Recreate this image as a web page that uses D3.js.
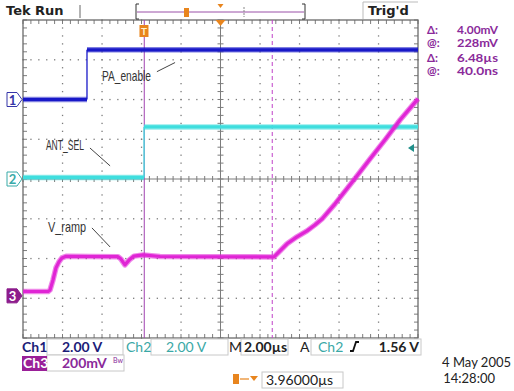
<!DOCTYPE html>
<html>
<head>
<meta charset="utf-8">
<script src="https://cdn.jsdelivr.net/npm/d3@7"></script>
<style>
  body { margin: 0; background: #fff; }
  svg { display: block; font-family: Lato, "DejaVu Sans", sans-serif; }
</style>
</head>
<body>
<svg id="scope" width="514" height="391"></svg>
<script>
// time in µs, relative to the trigger
const ch1Time = [-6.1, -2.86, -2.86, 13.9];
const ch1Volts = [0, 0, 2.5, 2.5];

const ch2Time = [-6.1, 0.03, 0.03, 13.9];
const ch2Volts = [0.08, 0.08, 2.62, 2.62];

const ch3Time = [-6.1, -4.83, -4.73, -4.58, -4.43, -4.28, -4.13, -3.92, -2.71, -1.29, -1.14, -0.94, -0.73, -0.48, -0.02, 0.84,
  6.51, 6.61, 6.91, 7.27, 7.77, 8.28, 8.68, 9.04, 9.70, 10.66, 11.47, 12.23, 12.99, 13.9];
const ch3MilliVolts = [22, 22, 30, 80, 141, 171, 191, 199, 198, 197, 185, 156, 180, 200, 206, 198,
  196, 196, 226, 262, 297, 327, 357, 387, 463, 584, 689, 785, 885, 991];

const channelNames = ['Ch1', 'Ch2', 'Ch3'];
const channelScales = ['2.00 V', '2.00 V', '200mV'];
const cursorTimes = [0.04, 6.52];
const cursorReadout = [['Δ:', '4.00mV'], ['@:', '228mV'], ['Δ:', '6.48µs'], ['@:', '40.0ns']];
const timebase = '2.00µs';
const trigLevel = 1.56;
const trigLabel = '1.56 V';
const hPosition = '3.96000µs';
const dateLines = ['4 May 2005', '14:28:00'];

const svg = d3.select('#scope');
const pL = 23, pR = 418, pT = 20, pB = 338;

const x = d3.scaleLinear().domain([-6.1, 13.9]).range([pL, pR]);
const y = d3.scaleLinear().domain([-4, 4]).range([pB, pT]); // divisions
const gx = d3.scaleLinear().domain([0, 10]).range([pL, pR]);

// channel settings: offset in divisions, units per division
const chans = [
  {t: ch1Time, v: ch1Volts, offset: 2, perDiv: 2, color: '#1818c8', mark: '#3535a8', label: '1'},
  {t: ch2Time, v: ch2Volts, offset: 0, perDiv: 2, color: '#3fdede', mark: '#39aaa8', label: '2'},
  {t: ch3Time, v: ch3MilliVolts, offset: -2.94, perDiv: 200, color: '#e025d5', mark: '#8c1c8c', label: '3'},
];

// graticule
const grid = svg.append('g').attr('class', 'graticule');
const gridCol = '#7c7c7c';
const minorX = d3.range(0, 50.01).map(i => pL + i * (pR - pL) / 50);
const minorY = d3.range(0, 40.01).map(i => pT + i * (pB - pT) / 40);

d3.range(1, 10).forEach(i => {
  if (i === 5) return;
  grid.selectAll(null).data(minorY).enter().append('rect')
    .attr('x', gx(i) - 0.6).attr('y', d => d - 0.6).attr('width', 1.3).attr('height', 1.3)
    .attr('fill', gridCol);
});
d3.range(-3, 4).forEach(i => {
  if (i === 0) return;
  grid.selectAll(null).data(minorX).enter().append('rect')
    .attr('x', d => d - 0.6).attr('y', y(i) - 0.6).attr('width', 1.3).attr('height', 1.3)
    .attr('fill', gridCol);
});

// centre axes with ticks
grid.append('line').attr('x1', pL).attr('x2', pR).attr('y1', y(0)).attr('y2', y(0))
  .attr('stroke', gridCol).attr('stroke-width', 1);
grid.append('line').attr('x1', gx(5)).attr('x2', gx(5)).attr('y1', pT).attr('y2', pB)
  .attr('stroke', gridCol).attr('stroke-width', 1);
grid.selectAll(null).data(minorX).enter().append('line')
  .attr('x1', d => d).attr('x2', d => d).attr('y1', y(0) - 3).attr('y2', y(0) + 3)
  .attr('stroke', gridCol);
grid.selectAll(null).data(minorY).enter().append('line')
  .attr('y1', d => d).attr('y2', d => d).attr('x1', gx(5) - 3).attr('x2', gx(5) + 3)
  .attr('stroke', gridCol);

// edge ticks
grid.selectAll(null).data(minorX).enter().append('line')
  .attr('x1', d => d).attr('x2', d => d).attr('y1', pT).attr('y2', pT + 4)
  .attr('stroke', gridCol);
grid.selectAll(null).data(minorX).enter().append('line')
  .attr('x1', d => d).attr('x2', d => d).attr('y1', pB - 4).attr('y2', pB)
  .attr('stroke', gridCol);
grid.selectAll(null).data(minorY).enter().append('line')
  .attr('y1', d => d).attr('y2', d => d).attr('x1', pL).attr('x2', pL + 4)
  .attr('stroke', gridCol);
grid.selectAll(null).data(minorY).enter().append('line')
  .attr('y1', d => d).attr('y2', d => d).attr('x1', pR - 4).attr('x2', pR)
  .attr('stroke', gridCol);

grid.append('rect').attr('x', pL).attr('y', pT).attr('width', pR - pL).attr('height', pB - pT)
  .attr('fill', 'none').attr('stroke', '#6a6a6a').attr('stroke-width', 1.3);

// cursors
svg.append('line').attr('x1', x(cursorTimes[0])).attr('x2', x(cursorTimes[0]))
  .attr('y1', pT).attr('y2', pB).attr('stroke', '#a040b0').attr('stroke-width', 1);
svg.append('line').attr('x1', x(cursorTimes[1])).attr('x2', x(cursorTimes[1]))
  .attr('y1', pT).attr('y2', pB).attr('stroke', '#c040c8').attr('stroke-width', 1)
  .attr('stroke-dasharray', '4,3');

// traces: flat/sloped runs are thick, vertical edges thin
const line = d3.line().x(d => x(d[0])).y(d => d[1]);
chans.forEach(c => {
  const pts = c.t.map((t, i) => [t, y(c.offset + c.v[i] / c.perDiv)]);
  const runs = [[pts[0]]];
  for (let i = 1; i < pts.length; i++) {
    if (pts[i][0] === pts[i - 1][0]) {
      svg.append('line')
        .attr('x1', x(pts[i][0])).attr('x2', x(pts[i][0]))
        .attr('y1', pts[i - 1][1]).attr('y2', pts[i][1])
        .attr('stroke', c.color).attr('stroke-width', 1.3);
      runs.push([pts[i]]);
    } else {
      runs[runs.length - 1].push(pts[i]);
    }
  }
  runs.forEach(r => {
    svg.append('path').datum(r).attr('d', line)
      .attr('fill', 'none').attr('stroke', c.color).attr('stroke-width', 5.5)
      .attr('stroke-linejoin', 'round').attr('opacity', 0.55);
    svg.append('path').datum(r).attr('d', line)
      .attr('fill', 'none').attr('stroke', c.color).attr('stroke-width', 3.2)
      .attr('stroke-linejoin', 'round');
  });

  // ground marker on the left
  const my = y(c.offset);
  const mk = svg.append('g');
  const filled = c.label === '3';
  mk.append('path')
    .attr('d', `M7,${my - 7}H17L22,${my}L17,${my + 7}H7Z`)
    .attr('fill', filled ? c.mark : '#fff').attr('stroke', c.mark).attr('stroke-width', 1);
  mk.append('text').attr('x', 12.5).attr('y', my + 5).attr('text-anchor', 'middle')
    .attr('font-size', 13).attr('font-weight', 'bold')
    .attr('fill', filled ? '#fff' : c.mark).text(c.label);
});

// annotations with leader lines
const note = svg.append('g')
  .attr('font-family', '"Liberation Sans Narrow", "Liberation Sans", sans-serif')
  .attr('font-size', 15).attr('fill', '#333');
[
  {text: 'PA_enable', w: 49, tx: -2.1, ty: 2.46, l: [[0.68, 2.7], [1.6, 2.93]]},
  {text: 'ANT_SEL', w: 38, tx: -4.94, ty: 0.72, l: [[-2.71, 0.78], [-1.69, 0.33]]},
  {text: 'V_ramp', w: 38, tx: -4.83, ty: -1.34, l: [[-2.61, -1.23], [-1.69, -1.71]]},
].forEach(a => {
  note.append('text').attr('x', x(a.tx)).attr('y', y(a.ty))
    .attr('textLength', a.w).attr('lengthAdjust', 'spacingAndGlyphs').text(a.text);
  note.append('line').attr('x1', x(a.l[0][0])).attr('y1', y(a.l[0][1]))
    .attr('x2', x(a.l[1][0])).attr('y2', y(a.l[1][1]))
    .attr('stroke', '#444').attr('stroke-width', 1);
});

// trigger markers
const orange = '#e8851e';
const tg = svg.append('g');
tg.append('rect').attr('x', x(0) - 4).attr('y', 25).attr('width', 9).attr('height', 12).attr('fill', orange);
tg.append('text').attr('x', x(0) + 0.5).attr('y', 35).attr('text-anchor', 'middle')
  .attr('font-size', 10).attr('font-weight', 'bold').attr('fill', '#fff3d0').text('T');
tg.append('path').attr('d', `M${gx(5) - 5},${pT}H${gx(5) + 5}L${gx(5)},${pT + 6}Z`).attr('fill', orange);
// trigger level arrow on the right
const trigY = y(chans[1].offset + trigLevel / chans[1].perDiv);
tg.append('path').attr('d', `M408,${trigY}L414,${trigY - 4}V${trigY + 4}Z`).attr('fill', '#1f8f8a');

// top bar
const topBar = svg.append('g').attr('font-family', '"DejaVu Sans", sans-serif');
topBar.append('text').attr('x', 6).attr('y', 15).attr('font-size', 13).attr('font-weight', 'bold')
  .attr('fill', '#222').text('Tek');
topBar.append('text').attr('x', 35).attr('y', 15).attr('font-size', 13).attr('font-weight', 'bold')
  .attr('fill', '#222').text('Run');
topBar.append('line').attr('x1', 80).attr('x2', 80).attr('y1', 5).attr('y2', 18).attr('stroke', '#666');
topBar.append('path').attr('d', 'M139,4H136V19H139').attr('fill', 'none').attr('stroke', '#333');
topBar.append('path').attr('d', 'M302,4H305V19H302').attr('fill', 'none').attr('stroke', '#333');
topBar.append('line').attr('x1', 137).attr('x2', 304).attr('y1', 12).attr('y2', 12)
  .attr('stroke', '#9a50a8').attr('stroke-width', 1);
topBar.append('rect').attr('x', 184).attr('y', 8).attr('width', 5).attr('height', 9).attr('fill', orange);
topBar.append('path').attr('d', `M${gx(5) - 3},4H${gx(5) + 3}L${gx(5)},8Z`).attr('fill', orange);
topBar.append('line').attr('x1', 244).attr('x2', 244).attr('y1', 7).attr('y2', 17)
  .attr('stroke', '#888').attr('stroke-dasharray', '2,1');
topBar.append('path').attr('d', 'M363,19V2H418').attr('fill', 'none').attr('stroke', '#bbb');
topBar.append('text').attr('x', 368).attr('y', 15).attr('font-size', 13).attr('font-weight', 'bold')
  .attr('fill', '#222').text("Trig'd");

// cursor readout
const purple = '#8a2a9a';
const ro = svg.append('g').attr('font-size', 11.5).attr('font-weight', 'bold').attr('fill', purple);
const roY = [34, 46.5, 62, 74.5];
cursorReadout.forEach((r, i) => {
  ro.append('text').attr('x', 427).attr('y', roY[i]).text(r[0]);
  ro.append('text').attr('x', 498).attr('y', roY[i]).attr('text-anchor', 'end')
    .attr('textLength', 41).attr('lengthAdjust', 'spacingAndGlyphs').text(r[1]);
});

// bottom readout
const bot = svg.append('g').attr('font-size', 14).attr('font-weight', 'bold');
const box = (x0, x1, y0, y1) => bot.append('rect').attr('x', x0).attr('y', y0)
  .attr('width', x1 - x0).attr('height', y1 - y0).attr('fill', '#fff').attr('stroke', '#c8c8c8');
box(47, 123, 339, 355);
box(151, 228, 339, 355);
box(241, 288, 339, 355);
box(311, 421, 339, 355);
box(47, 124, 355, 371);
box(262, 343, 372, 388);

bot.append('text').attr('x', 22).attr('y', 352).attr('fill', '#1c1c78').text(channelNames[0]);
bot.append('text').attr('x', 62).attr('y', 352).attr('fill', '#1c1c78').text(channelScales[0]);
bot.append('text').attr('x', 126).attr('y', 352).attr('fill', '#3aa8a6').attr('font-weight', 'normal').text(channelNames[1]);
bot.append('text').attr('x', 166).attr('y', 352).attr('fill', '#3aa8a6').attr('font-weight', 'normal').text(channelScales[1]);
bot.append('text').attr('x', 229).attr('y', 352).attr('fill', '#222').attr('font-weight', 'normal').text('M');
bot.append('text').attr('x', 244).attr('y', 352).attr('fill', '#222').text(timebase);
bot.append('text').attr('x', 300).attr('y', 352).attr('fill', '#222').attr('font-weight', 'normal').text('A');
bot.append('text').attr('x', 318).attr('y', 352).attr('fill', '#3aa8a6').attr('font-weight', 'normal').text(channelNames[1]);
bot.append('path').attr('d', 'M350,351H353L356,342H359').attr('fill', 'none').attr('stroke', '#111').attr('stroke-width', 1.8);
bot.append('text').attr('x', 419).attr('y', 352).attr('text-anchor', 'end').attr('fill', '#222').text(trigLabel);

bot.append('rect').attr('x', 22).attr('y', 356).attr('width', 25).attr('height', 15).attr('fill', '#9a1f98');
bot.append('text').attr('x', 23).attr('y', 368).attr('fill', '#fff').text(channelNames[2]);
bot.append('text').attr('x', 62).attr('y', 368).attr('fill', purple).text(channelScales[2]);
bot.append('text').attr('x', 113).attr('y', 363).attr('fill', purple).attr('font-size', 7).attr('font-weight', 'normal').text('Bw');

// horizontal position
bot.append('rect').attr('x', 233).attr('y', 374).attr('width', 6).attr('height', 10).attr('fill', orange);
bot.append('line').attr('x1', 240).attr('x2', 249).attr('y1', 379).attr('y2', 379).attr('stroke', orange).attr('stroke-width', 1.2);
bot.append('path').attr('d', 'M250,376H258L254,381Z').attr('fill', orange);
bot.append('text').attr('x', 266).attr('y', 385).attr('fill', '#222').attr('font-weight', 'normal').text(hPosition);

bot.append('text').attr('x', 511).attr('y', 367).attr('text-anchor', 'end').attr('fill', '#222')
  .attr('font-weight', 'normal').attr('font-size', 13).text(dateLines[0]);
bot.append('text').attr('x', 495).attr('y', 383).attr('text-anchor', 'end').attr('fill', '#222')
  .attr('font-weight', 'normal').attr('font-size', 13).text(dateLines[1]);
</script>
</body>
</html>
